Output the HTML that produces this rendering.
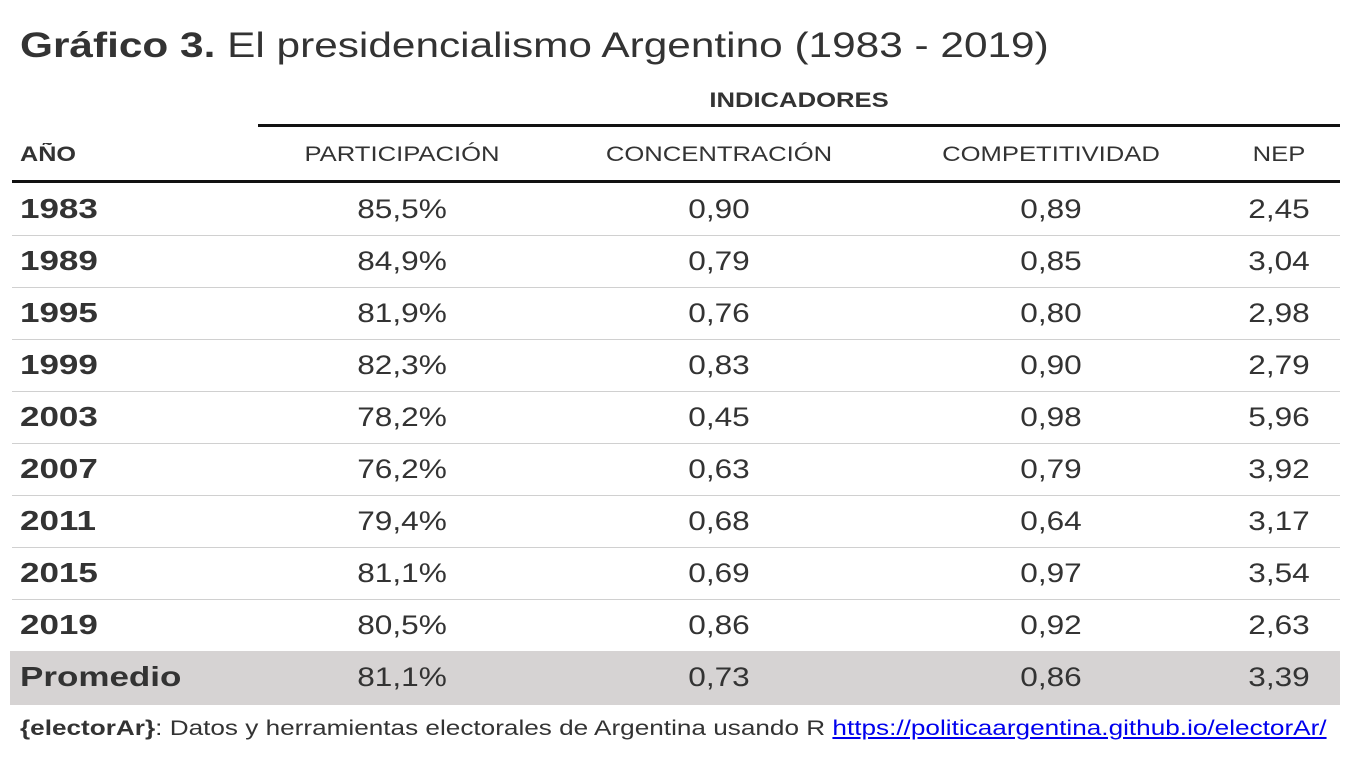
<!DOCTYPE html>
<html><head><meta charset="utf-8">
<style>
body{margin:0;width:1350px;height:760px;background:#fff;font-family:"Liberation Sans",sans-serif;color:#333;position:relative;overflow:hidden}
.a{position:absolute;white-space:nowrap}
.c{transform:translateX(-50%) scaleX(1.17)}
.ch{transform:translateX(-50%) scaleX(1.22)}
.yr{font-weight:bold;font-size:28px;left:20px;transform:scaleX(1.25);transform-origin:left center}
.v{font-size:27px}
.h{font-size:21px}
.sep{position:absolute;left:12px;width:1328px;height:1px;background:#d0d0d0}
</style></head>
<body>
<div class="a" style="left:20px;top:26px;font-size:35px;transform:scaleX(1.21);transform-origin:left center"><b>Gráfico 3.</b> El presidencialismo Argentino (1983 - 2019)</div>
<div class="a ch h" style="left:799px;top:89px;font-weight:bold">INDICADORES</div>
<div class="a" style="left:258px;top:124px;width:1082px;height:3px;background:#111"></div>
<div class="a h" style="left:20px;top:143px;font-weight:bold;transform:scaleX(1.2);transform-origin:left center">AÑO</div>
<div class="a ch h" style="left:402px;top:143px">PARTICIPACIÓN</div>
<div class="a ch h" style="left:719px;top:143px">CONCENTRACIÓN</div>
<div class="a ch h" style="left:1051px;top:143px">COMPETITIVIDAD</div>
<div class="a ch h" style="left:1279px;top:143px">NEP</div>
<div class="a" style="left:12px;top:180px;width:1328px;height:3px;background:#111"></div>
<div class="a" style="left:10px;top:651px;width:1330px;height:54px;background:#d6d3d3"></div>
<div id="rows"></div>
<div class="a" style="left:20px;top:717px;font-size:21px;transform:scaleX(1.245);transform-origin:left center"><b>{electorAr}</b>: Datos y herramientas electorales de Argentina usando R <a style="color:#00e;text-decoration:underline">https://politicaargentina.github.io/electorAr/</a></div>
<script>
const years=["1983","1989","1995","1999","2003","2007","2011","2015","2019","Promedio"];
const participacion=["85,5%","84,9%","81,9%","82,3%","78,2%","76,2%","79,4%","81,1%","80,5%","81,1%"];
const concentracion=["0,90","0,79","0,76","0,83","0,45","0,63","0,68","0,69","0,86","0,73"];
const competitividad=["0,89","0,85","0,80","0,90","0,98","0,79","0,64","0,97","0,92","0,86"];
const nep=["2,45","3,04","2,98","2,79","5,96","3,92","3,17","3,54","2,63","3,39"];
const cols=[[participacion,402],[concentracion,719],[competitividad,1051],[nep,1279]];
const root=document.getElementById('rows');
years.forEach((y,i)=>{
  const cy=209+i*52;
  const t=document.createElement('div');
  t.className='a yr';
  t.style.top=(cy-16)+'px';
  t.textContent=y;
  
  
  root.appendChild(t);
  cols.forEach(([arr,x],j)=>{
    const d=document.createElement('div');
    d.className='a c v';
    d.style.left=x+'px';
    d.style.top=(cy-15)+'px';
    d.textContent=arr[i];
    
    
    root.appendChild(d);
  });
  if(i<8){
    const s=document.createElement('div');
    s.className='sep';
    s.style.top=(cy+26)+'px';
    
    
    root.appendChild(s);
  }
});
</script>
</body></html>
